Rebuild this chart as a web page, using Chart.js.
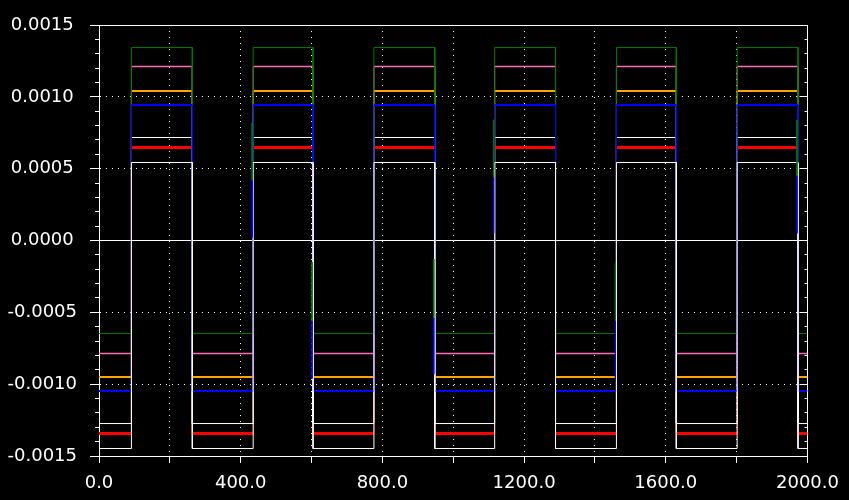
<!DOCTYPE html>
<html>
<head>
<meta charset="utf-8">
<style>
html,body{margin:0;padding:0;background:#000;}
canvas{display:block;}
</style>
<script src="https://cdn.jsdelivr.net/npm/chart.js@4/dist/chart.umd.min.js"></script>
</head>
<body>
<canvas id="c" width="849" height="500"></canvas>
<script>
// ---- data ----
const xRange = [0, 2000];
const yRange = [-0.0015, 0.0015];
const xLabelValues = [0, 400, 800, 1200, 1600, 2000];
const xLabels = ['0.0', '400.0', '800.0', '1200.0', '1600.0', '2000.0'];
const yLabelValues = [-0.0015, -0.0010, -0.0005, 0.0, 0.0005, 0.0010, 0.0015];
const yLabels = ['-0.0015', '-0.0010', '-0.0005', '0.0000', '0.0005', '0.0010', '0.0015'];

// switching instants of the square waves (rise, fall, rise, ...)
const edges = [91.5, 263.4, 435.2, 604.2, 776.1, 947.9, 1116.9, 1288.7, 1460.6, 1629.6, 1801.4, 1973.2];

// series levels: value while high / while low
const seriesNames = ['whiteLower', 'blue', 'green', 'whiteUpper', 'red', 'orange', 'pink'];
const highLevels = [0.000543, 0.000943, 0.001343, 0.000717, 0.000647, 0.001041, 0.001211];
const lowLevels  = [-0.001448, -0.001048, -0.000647, -0.001274, -0.001343, -0.000950, -0.000787];

// short glitch segments next to some edges
const spikeX         = [432.4, 601.4, 945.1, 1114.1, 1457.8, 1970.4];
const greenSpikeTop  = [0.00082, -0.00015, -0.00013, 0.00084, -0.00015, 0.00084];
const greenSpikeBot  = [0.00042, -0.00056, -0.00054, 0.00044, -0.00056, 0.00045];
const blueSpikeTop   = [0.00042, -0.00056, -0.00054, 0.00044, -0.00056, 0.00045];
const blueSpikeBot   = [0.00002, -0.00096, -0.00093, 0.00005, -0.00096, 0.00005];

// ---- styles ----
const styles = {
  whiteLower: {color: '#ffffff', width: 1},
  blue:       {color: '#0000ff', width: 2},
  green:      {color: '#007a00', width: 1},
  whiteUpper: {color: '#ffffff', width: 1},
  red:        {color: '#ff0000', width: 3},
  orange:     {color: '#ffa500', width: 2},
  pink:       {color: '#ff6eb4', width: 1.5}
};

function squareWave(high, low) {
  const pts = [{x: xRange[0], y: low}];
  let cur = low;
  edges.forEach((e, i) => {
    const next = i % 2 === 0 ? high : low;
    pts.push({x: e, y: cur});
    pts.push({x: e, y: next});
    cur = next;
  });
  pts.push({x: xRange[1], y: cur});
  return pts;
}
function spikes(tops, bots) {
  const pts = [];
  spikeX.forEach((x, i) => {
    pts.push({x: x, y: tops[i]});
    pts.push({x: x, y: bots[i]});
    pts.push({x: x, y: null});
  });
  return pts;
}

const datasets = seriesNames.map((name, i) => ({
  label: name,
  data: squareWave(highLevels[i], lowLevels[i]),
  borderColor: styles[name].color,
  borderWidth: styles[name].width,
  segment: {
    borderWidth: (ctx) => ctx.p0.parsed.x === ctx.p1.parsed.x ? 1 : styles[name].width
  },
  pointRadius: 0,
  fill: false,
  order: i + 2
}));
datasets.push({label: 'greenSpike', data: spikes(greenSpikeTop, greenSpikeBot), borderColor: styles.green.color, borderWidth: 1, pointRadius: 0, spanGaps: false, order: 0});
datasets.push({label: 'blueSpike', data: spikes(blueSpikeTop, blueSpikeBot), borderColor: styles.blue.color, borderWidth: 1, pointRadius: 0, spanGaps: false, order: 1});

Chart.defaults.font.family = 'DejaVu Sans';
Chart.defaults.font.size = 18;
Chart.defaults.color = '#ffffff';

const near = (a, b) => Math.abs(a - b) < 1e-9;
const DOT = [1, 5];

new Chart(document.getElementById('c'), {
  type: 'line',
  data: {datasets},
  options: {
    responsive: false,
    animation: false,
    devicePixelRatio: 1,
    layout: {padding: {top: 25, left: 0, right: 0, bottom: 0}},
    plugins: {legend: {display: false}, tooltip: {enabled: false}},
    scales: {
      x: {
        type: 'linear', position: 'bottom', min: xRange[0], max: xRange[1],
        ticks: {
          stepSize: 200, autoSkip: false, maxRotation: 0, minRotation: 0, padding: 10, color: '#fff',
          callback: (v) => { const i = xLabelValues.findIndex(t => near(t, v)); return i >= 0 ? xLabels[i] : ''; }
        },
        grid: {color: '#fff', lineWidth: 1, tickLength: 7, tickColor: '#fff', drawOnChartArea: true},
        border: {display: true, color: '#fff', width: 1, dash: (ctx) => ctx.tick ? DOT : []},
        afterFit: (s) => { s.height = 44; }
      },
      y: {
        position: 'left', weight: 1, min: yRange[0], max: yRange[1],
        ticks: {
          stepSize: 0.0005, crossAlign: 'center', padding: 13, color: '#fff',
          callback: (v) => { const i = yLabelValues.findIndex(t => near(t, v)); return i >= 0 ? yLabels[i] : ''; }
        },
        grid: {color: '#fff', lineWidth: 1, tickLength: 9, tickColor: '#fff', drawOnChartArea: true},
        border: {display: true, color: '#fff', width: 1,
          dash: (ctx) => (ctx.tick && !near(ctx.tick.value, 0) && !near(ctx.tick.value, yRange[1])) ? DOT : []},
        afterFit: (s) => { s.width = 99; }
      },
      yMinor: {
        position: 'left', weight: 0, min: yRange[0], max: yRange[1],
        ticks: {stepSize: 0.0001, display: false},
        grid: {color: '#fff', tickLength: 4, tickColor: '#fff', drawOnChartArea: false},
        border: {display: false},
        afterFit: (s) => { s.width = 0; }
      },
      yRight: {
        position: 'right', weight: 0, min: yRange[0], max: yRange[1],
        ticks: {stepSize: 0.0005, display: false},
        grid: {color: '#fff', tickLength: -8, tickColor: '#fff', drawOnChartArea: false},
        border: {display: true, color: '#fff', width: 1},
        afterFit: (s) => { s.width = 0; }
      },
      yRightMinor: {
        position: 'right', weight: 1, min: yRange[0], max: yRange[1],
        ticks: {stepSize: 0.0001, display: false},
        grid: {color: '#fff', tickLength: -3, tickColor: '#fff', drawOnChartArea: false},
        border: {display: false},
        afterFit: (s) => { s.width = 40; }
      }
    }
  }
});
</script>
</body>
</html>
